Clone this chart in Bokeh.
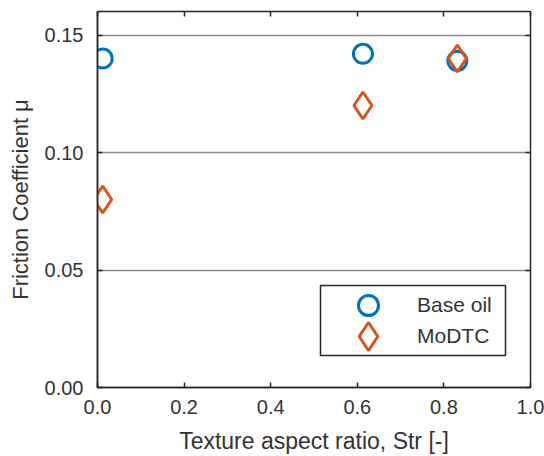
from bokeh.plotting import figure
from bokeh.models import (ColumnDataSource, FixedTicker, NumeralTickFormatter,
                          LinearAxis, Range1d, Legend, LegendItem, CustomJSTickFormatter,
                          BoxAnnotation)
from bokeh.embed import file_html
from bokeh.resources import INLINE

# data
x_base = [0.012, 0.613, 0.831]
y_base = [0.140, 0.142, 0.139]
x_modtc = [0.012, 0.613, 0.831]
y_modtc = [0.080, 0.120, 0.140]
x_ticks = [0.0, 0.2, 0.4, 0.6, 0.8, 1.0]
y_ticks = [0.00, 0.05, 0.10, 0.15]
series_names = ["Base oil", "MoDTC"]

BLUE = "#0072BD"
ORANGE = "#D95319"
TXT = "#333333"
FONT = "Liberation Sans"

p = figure(width=544, height=456, output_backend="svg", toolbar_location=None,
           x_range=Range1d(0, 1), y_range=Range1d(0, 0.16),
           min_border_left=97, min_border_right=14, min_border_top=11,
           min_border_bottom=69)

p.xgrid.visible = False
p.ygrid.ticker = FixedTicker(ticks=y_ticks)
p.ygrid.grid_line_color = "#8a8a8a"
p.ygrid.grid_line_width = 1.6

p.outline_line_color = "#262626"
p.outline_line_width = 1.5
p.outline_line_alpha = 1

for ax, ticks, fmt in ((p.xaxis[0], x_ticks, "0.0"), (p.yaxis[0], y_ticks, "0.00")):
    ax.ticker = FixedTicker(ticks=ticks)
    ax.formatter = NumeralTickFormatter(format=fmt)
    ax.major_tick_in = 5
    ax.major_tick_out = 0
    ax.minor_tick_line_color = None
    ax.axis_line_color = "#262626"
    ax.axis_line_width = 1.5
    ax.major_tick_line_color = "#262626"
    ax.major_tick_line_width = 1.5
    ax.major_label_text_font = FONT
    ax.major_label_text_font_size = "20px"
    ax.major_label_text_color = TXT
    ax.axis_label_text_font = FONT
    ax.axis_label_text_font_style = "normal"
    ax.axis_label_text_color = TXT

p.xaxis[0].axis_label = "Texture aspect ratio, Str [-]"
p.xaxis[0].axis_label_text_font_size = "23px"
p.xaxis[0].major_label_standoff = 12
p.xaxis[0].axis_label_standoff = 11
p.yaxis[0].axis_label = "Friction Coefficient \u03bc"
p.yaxis[0].axis_label_text_font_size = "22px"
p.yaxis[0].major_label_standoff = 14
p.yaxis[0].axis_label_standoff = 9

# top and right tick-only axes
blank = CustomJSTickFormatter(code="return ''")
top = LinearAxis(ticker=FixedTicker(ticks=x_ticks), major_tick_in=5, major_tick_out=0,
                 minor_tick_line_color=None, axis_line_color=None,
                 major_tick_line_color="#262626", major_tick_line_width=1.5,
                 formatter=blank, major_label_standoff=0)
right = LinearAxis(ticker=FixedTicker(ticks=y_ticks), major_tick_in=5, major_tick_out=0,
                   minor_tick_line_color=None, axis_line_color=None,
                   major_tick_line_color="#262626", major_tick_line_width=1.5,
                   formatter=blank, major_label_standoff=0)
p.add_layout(top, "above")
p.add_layout(right, "right")

src_b = ColumnDataSource(dict(x=x_base, y=y_base))
src_m = ColumnDataSource(dict(x=x_modtc, y=y_modtc))
r_b = p.scatter("x", "y", source=src_b, marker="circle", size=19, fill_color=None,
                line_color=BLUE, line_width=3)
r_m = p.scatter("x", "y", source=src_m, marker="diamond", size=27, fill_color=None,
                line_color=ORANGE, line_width=3)

# legend frame (screen units, relative to plot frame)
box = BoxAnnotation(left=223, right=408, bottom=32, top=102,
                    left_units="screen", right_units="screen",
                    top_units="screen", bottom_units="screen",
                    fill_color="white", fill_alpha=1,
                    line_color="#262626", line_width=1.5, line_alpha=1)
p.add_layout(box)

common = dict(orientation="vertical", padding=0, spacing=0, margin=0,
              label_text_font=FONT, label_text_font_size="21px",
              label_text_color=TXT, border_line_color=None,
              background_fill_alpha=0)
leg1 = Legend(items=[LegendItem(label=series_names[0], renderers=[r_b])],
              location=(246, 57), glyph_width=50, glyph_height=50,
              label_standoff=24, **common)
leg2 = Legend(items=[LegendItem(label=series_names[1], renderers=[r_m])],
              location=(236, 16), glyph_width=70, glyph_height=70,
              label_standoff=14, **common)
p.add_layout(leg1, "center")
p.add_layout(leg2, "center")

open("out.html", "w").write(file_html(p, INLINE))
